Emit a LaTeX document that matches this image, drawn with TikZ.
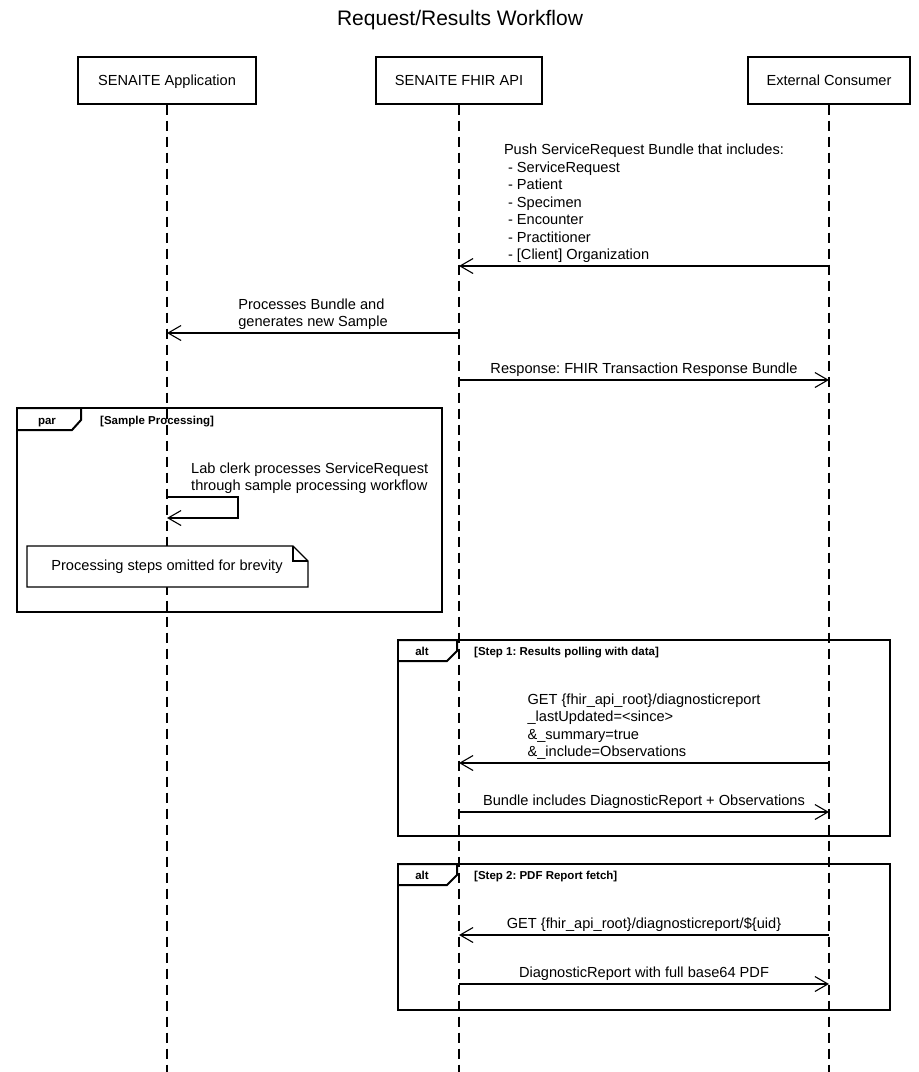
\documentclass[tikz,border=0pt]{standalone}
\usepackage{fontspec}
\setmainfont{Liberation Sans}
\usetikzlibrary{arrows.meta}
\frenchspacing
\begin{document}
\begin{tikzpicture}[x=1pt,y=-1pt,
  lbl/.style={font=\fontsize{14.6}{17.5}\selectfont, inner sep=0pt, align=left},
  actor/.style={draw, line width=2pt, minimum height=47pt, inner sep=0pt, text height=12pt, text depth=1pt, font=\fontsize{14.6}{17.5}\selectfont},
  life/.style={line width=1.1pt, dash pattern=on 10pt off 6pt},
  msg/.style={line width=1.1pt, -{Straight Barb[length=13pt,width=15pt]}},
  frm/.style={line width=2pt},
  ftitle/.style={font=\bfseries\fontsize{11.5}{13}\selectfont, inner sep=0pt, anchor=base west},
  ftag/.style={font=\bfseries\fontsize{11.5}{13}\selectfont, inner sep=0pt, anchor=base}
]
\useasboundingbox (0,0) rectangle (919,1072);

% title
\node[font=\fontsize{21}{25}\selectfont, inner sep=0pt] (title) at (460,20) {Request/Results Workflow};

% actors
\node[actor, minimum width=178pt] (app) at (167,80) {SENAITE Application};
\node[actor, minimum width=166pt] (api) at (459,80) {SENAITE FHIR API};
\node[actor, minimum width=162pt] (ext) at (829,80) {External Consumer};

% lifelines
\coordinate (appEnd) at (167,1072);
\coordinate (apiEnd) at (459,1072);
\coordinate (extEnd) at (829,1072);
\draw[life] (app.south) -- (appEnd);
\draw[life] (api.south) -- (apiEnd);
\draw[life] (ext.south) -- (extEnd);

% message 1
\coordinate (m1a) at (829,266);
\coordinate (m1b) at (459,266);
\draw[msg] (m1a) -- (m1b);
\node[lbl, anchor=south] (l1) at (644,263) {Push ServiceRequest Bundle that includes:\\
\hspace*{4pt}- ServiceRequest\\
\hspace*{4pt}- Patient\\
\hspace*{4pt}- Specimen\\
\hspace*{4pt}- Encounter\\
\hspace*{4pt}- Practitioner\\
\hspace*{4pt}- [Client] Organization};

% message 2
\coordinate (m2a) at (459,333);
\coordinate (m2b) at (167,333);
\draw[msg] (m2a) -- (m2b);
\node[lbl, anchor=south] (l2) at (313,330) {Processes Bundle and\\generates new Sample};

% message 3
\coordinate (m3a) at (459,380);
\coordinate (m3b) at (829,380);
\draw[msg] (m3a) -- (m3b);
\node[lbl, anchor=south] (l3) at (644,377) {Response: FHIR Transaction Response Bundle};

% par frame
\draw[frm] (17,408) rectangle (442,612);
\draw[frm] (17,408) -- (81,408) -- (81,420) -- (72,430) -- (17,430);
\node[ftag] (partag) at (47,424) {par};
\node[ftitle] (partitle) at (100,424) {[Sample Processing]};

% self message
\coordinate (s1) at (167,497);
\coordinate (s2) at (238,497);
\coordinate (s3) at (238,518);
\coordinate (s4) at (167,518);
\draw[msg] (s1) -- (s2) -- (s3) -- (s4);
\node[lbl, anchor=south west] (ls) at (191,494) {Lab clerk processes ServiceRequest\\through sample processing workflow};

% note
\draw[line width=1.1pt, fill=white] (27,546) -- (293,546) -- (308,561) -- (308,587) -- (27,587) -- cycle;
\draw[line width=1.1pt] (293,546) -- (293,561) -- (308,561);
\node[lbl] (note) at (167,567) {Processing steps omitted for brevity};

% alt frame 1
\draw[frm] (398,640) rectangle (890,836);
\draw[frm] (398,640) -- (457,640) -- (457,651) -- (447,661) -- (398,661);
\node[ftag] (alt1tag) at (422,655) {alt};
\node[ftitle] (alt1title) at (474,655) {[Step 1: Results polling with data]};

\coordinate (m4a) at (829,763);
\coordinate (m4b) at (459,763);
\draw[msg] (m4a) -- (m4b);
\node[lbl, anchor=south] (l4) at (644,760) {GET \{fhir\_api\_root\}/diagnosticreport\\
\_lastUpdated=<since>\\
\&\_summary=true\\
\&\_include=Observations};

\coordinate (m5a) at (459,812);
\coordinate (m5b) at (829,812);
\draw[msg] (m5a) -- (m5b);
\node[lbl, anchor=south] (l5) at (644,809) {Bundle includes DiagnosticReport + Observations};

% alt frame 2
\draw[frm] (398,864) rectangle (890,1010);
\draw[frm] (398,864) -- (457,864) -- (457,875) -- (447,885) -- (398,885);
\node[ftag] (alt2tag) at (422,879) {alt};
\node[ftitle] (alt2title) at (474,879) {[Step 2: PDF Report fetch]};

\coordinate (m6a) at (829,935);
\coordinate (m6b) at (459,935);
\draw[msg] (m6a) -- (m6b);
\node[lbl, anchor=south] (l6) at (644,932) {GET \{fhir\_api\_root\}/diagnosticreport/\$\{uid\}};

\coordinate (m7a) at (459,984);
\coordinate (m7b) at (829,984);
\draw[msg] (m7a) -- (m7b);
\node[lbl, anchor=south] (l7) at (644,981) {DiagnosticReport with full base64 PDF};
\end{tikzpicture}
\end{document}
